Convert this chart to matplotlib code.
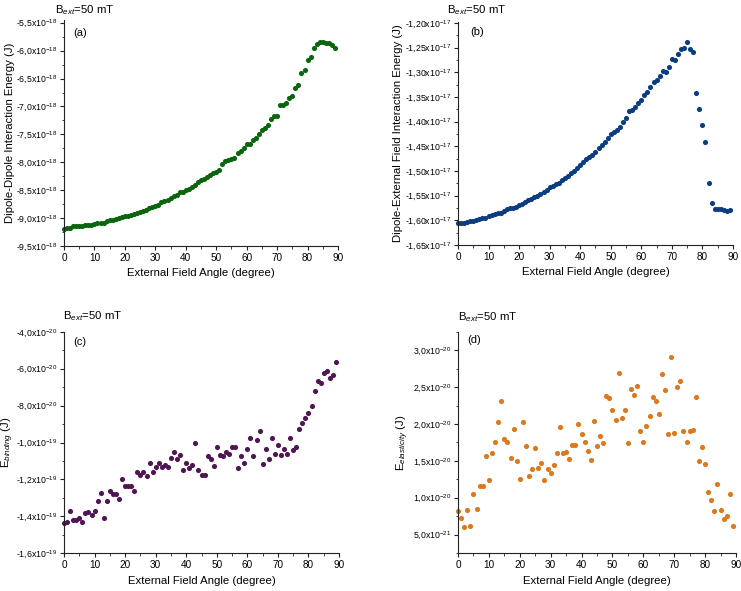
import numpy as np
import matplotlib
matplotlib.use("Agg")
import matplotlib.pyplot as plt
from matplotlib.ticker import FixedLocator, FuncFormatter

plt.rcParams['font.family'] = ['Liberation Sans', 'DejaVu Sans']
plt.rcParams['mathtext.fontset'] = 'custom'
plt.rcParams['mathtext.rm'] = 'Liberation Sans'
plt.rcParams['mathtext.it'] = 'Liberation Sans:italic'

# external field angle (degree), one point per degree
angle = list(range(90))

# (a) dipole-dipole interaction energy, x1e-18 J
e_dipole = [
    -9.20, -9.18, -9.17, -9.15, -9.15, -9.15, -9.14, -9.13, -9.13, -9.12,
    -9.10, -9.09, -9.08, -9.08, -9.05, -9.04, -9.04, -9.02, -9.00, -8.98,
    -8.97, -8.97, -8.94, -8.92, -8.90, -8.89, -8.87, -8.85, -8.82, -8.80,
    -8.78, -8.76, -8.72, -8.69, -8.67, -8.64, -8.61, -8.58, -8.54, -8.53,
    -8.50, -8.47, -8.45, -8.40, -8.35, -8.32, -8.30, -8.26, -8.23, -8.19,
    -8.17, -8.13, -8.03, -7.98, -7.96, -7.94, -7.93, -7.84, -7.79, -7.74,
    -7.67, -7.68, -7.60, -7.56, -7.50, -7.42, -7.38, -7.33, -7.22, -7.17,
    -7.17, -6.98, -6.98, -6.93, -6.85, -6.81, -6.67, -6.62, -6.40, -6.35,
    -6.16, -6.12, -5.95, -5.88, -5.84, -5.85, -5.86, -5.87, -5.90, -5.95,
]

# (b) dipole-external field interaction energy, x1e-17 J
e_field = [
    -1.605, -1.606, -1.605, -1.604, -1.602, -1.601, -1.599, -1.598, -1.596, -1.595,
    -1.592, -1.590, -1.588, -1.586, -1.585, -1.581, -1.578, -1.576, -1.575, -1.572,
    -1.569, -1.566, -1.563, -1.559, -1.557, -1.553, -1.550, -1.547, -1.543, -1.538,
    -1.533, -1.531, -1.527, -1.524, -1.518, -1.514, -1.510, -1.505, -1.499, -1.493,
    -1.488, -1.482, -1.476, -1.472, -1.468, -1.461, -1.454, -1.447, -1.441, -1.433,
    -1.425, -1.420, -1.416, -1.410, -1.400, -1.392, -1.379, -1.376, -1.371, -1.362,
    -1.356, -1.345, -1.339, -1.330, -1.320, -1.316, -1.307, -1.298, -1.300, -1.290,
    -1.274, -1.276, -1.263, -1.253, -1.250, -1.238, -1.253, -1.258, -1.341, -1.375,
    -1.407, -1.441, -1.525, -1.565, -1.577, -1.577, -1.578, -1.580, -1.581, -1.580,
]

# (c) binding energy, x1e-19 J
e_binding = [
    -1.437, -1.433, -1.373, -1.422, -1.422, -1.410, -1.431, -1.382, -1.377, -1.395,
    -1.373, -1.315, -1.274, -1.408, -1.315, -1.266, -1.281, -1.281, -1.306, -1.199,
    -1.234, -1.234, -1.234, -1.266, -1.158, -1.176, -1.158, -1.183, -1.111, -1.158,
    -1.131, -1.114, -1.131, -1.123, -1.131, -1.083, -1.051, -1.092, -1.067, -1.152,
    -1.111, -1.140, -1.123, -1.002, -1.152, -1.174, -1.174, -1.075, -1.092, -1.125,
    -1.025, -1.067, -1.075, -1.051, -1.060, -1.025, -1.025, -1.141, -1.075, -1.111,
    -1.034, -0.975, -1.075, -0.984, -0.935, -1.116, -1.034, -1.092, -0.975, -1.060,
    -1.016, -1.067, -1.034, -1.060, -0.975, -1.043, -1.025, -0.926, -0.893, -0.866,
    -0.842, -0.802, -0.719, -0.668, -0.679, -0.621, -0.612, -0.652, -0.636, -0.561,
]

# (d) elasticity energy, x1e-20 J
e_elastic = [
    0.817, 0.727, 0.600, 0.840, 0.610, 1.053, 0.853, 1.157, 1.157, 1.569,
    1.243, 1.610, 1.750, 2.035, 2.307, 1.800, 1.760, 1.537, 1.940, 1.500,
    1.250, 2.026, 1.700, 1.297, 1.390, 1.682, 1.400, 1.474, 1.243, 1.390,
    1.333, 1.440, 1.614, 1.958, 1.614, 1.623, 1.530, 1.710, 1.720, 1.995,
    1.860, 1.750, 1.630, 1.514, 2.040, 1.700, 1.845, 1.745, 2.375, 2.357,
    2.194, 2.050, 2.690, 2.085, 2.185, 1.740, 2.480, 2.393, 2.515, 1.904,
    1.750, 1.980, 2.108, 2.366, 2.320, 2.140, 2.680, 2.466, 1.863, 2.910,
    1.880, 2.510, 2.590, 1.904, 1.750, 1.904, 1.913, 2.361, 1.500, 1.690,
    1.460, 1.075, 0.975, 0.817, 1.190, 0.840, 0.713, 0.758, 1.057, 0.622,
]

# y tick values for each panel (same units as the data above)
ticks_a = [-9.5, -9.0, -8.5, -8.0, -7.5, -7.0, -6.5, -6.0, -5.5]
ticks_b = [-1.65, -1.60, -1.55, -1.50, -1.45, -1.40, -1.35, -1.30, -1.25, -1.20]
ticks_c = [-1.6, -1.4, -1.2, -1.0, -0.8, -0.6, -0.4]
ticks_d = [0.5, 1.0, 1.5, 2.0, 2.5, 3.0]
x_ticks = [0, 10, 20, 30, 40, 50, 60, 70, 80, 90]


def sci_formatter(decimals):
    def fmt(v, pos):
        s = f"{v:.{decimals}e}"
        mant, exp = s.split("e")
        mant = mant.replace(".", ",")
        return mant + "x10$^{" + str(int(exp)) + "}$"
    return FuncFormatter(fmt)


def minors(ticks, lo, hi):
    # one minor tick halfway between majors, kept inside the limits
    step = ticks[1] - ticks[0]
    vals = [t + step / 2 for t in ticks] + [ticks[0] - step / 2]
    return [v for v in vals if lo <= v <= hi and all(abs(v - t) > 1e-9 for t in ticks)]


W, H = 741, 591
fig = plt.figure(figsize=(W / 100, H / 100), dpi=100)


def add_axes(left, top, right, bottom):
    return fig.add_axes([left / W, 1 - bottom / H, (right - left) / W, (bottom - top) / H])


panels = [
    dict(box=(64, 20, 338, 246), y=e_dipole, scale=1e-18, color='#0b650f',
         ylim=(-9.5, -5.45), ticks=ticks_a, dec=1,
         ylabel='Dipole-Dipole Interaction Energy (J)', tag='(a)',
         title=(55, 13), tagxy=(73, 33), ylx=10),
    dict(box=(458, 22, 733, 245), y=e_field, scale=1e-17, color='#0b3d80',
         ylim=(-1.65, -1.198), ticks=ticks_b, dec=2,
         ylabel='Dipole-External Field Interaction Energy (J)', tag='(b)',
         title=(447, 13), tagxy=(470, 32), ylx=398),
    dict(box=(64, 332, 339, 553), y=e_binding, scale=1e-19, color='#501653',
         ylim=(-1.6, -0.4), ticks=ticks_c, dec=1,
         ylabel='E$_{binding}$ (J)', tag='(c)',
         title=(63, 319), tagxy=(73, 342), ylx=8),
    dict(box=(458, 332, 736, 553), y=e_elastic, scale=1e-20, color='#dc791d',
         ylim=(0.25, 3.25), ticks=ticks_d, dec=1,
         ylabel='E$_{elasticity}$ (J)', tag='(d)',
         title=(458, 320), tagxy=(467, 340), ylx=403),
]

for p in panels:
    ax = add_axes(*p['box'])
    s = p['scale']
    lo, hi = p['ylim']
    ax.plot(angle, np.array(p['y']) * s, 'o', color=p['color'], markersize=3.7,
            markeredgewidth=0, clip_on=False)
    ax.set_xlim(0, 90)
    ax.set_ylim(lo * s, hi * s)
    ax.xaxis.set_major_locator(FixedLocator(x_ticks))
    ax.xaxis.set_minor_locator(FixedLocator([t + 5 for t in x_ticks[:-1]]))
    ax.yaxis.set_major_locator(FixedLocator([t * s for t in p['ticks']]))
    ax.yaxis.set_minor_locator(FixedLocator([t * s for t in minors(p['ticks'], lo, hi)]))
    ax.yaxis.set_major_formatter(sci_formatter(p['dec']))
    for side in ('top', 'right'):
        ax.spines[side].set_visible(False)
    for side in ('left', 'bottom'):
        ax.spines[side].set_linewidth(0.8)
        ax.spines[side].set_color('#222222')
    ax.tick_params(which='major', direction='out', length=3, width=0.8, color='#222222')
    ax.tick_params(which='minor', direction='out', length=1.8, width=0.6, color='#222222')
    ax.tick_params(axis='x', labelsize=7.2, pad=2)
    ax.tick_params(axis='y', labelsize=6.3, pad=1.5)
    ax.set_xlabel('External Field Angle (degree)', fontsize=8.2, labelpad=4)

    fig.text(p['ylx'] / W, 1 - ((p['box'][1] + p['box'][3]) / 2) / H, p['ylabel'],
             rotation=90, ha='center', va='center', fontsize=8.2)
    fig.text(p['title'][0] / W, 1 - p['title'][1] / H, 'B$_{ext}$=50 mT',
             ha='left', va='baseline', fontsize=8.2)
    fig.text(p['tagxy'][0] / W, 1 - p['tagxy'][1] / H, p['tag'],
             ha='left', va='center', fontsize=8)

fig.savefig('out.png', dpi=100)
